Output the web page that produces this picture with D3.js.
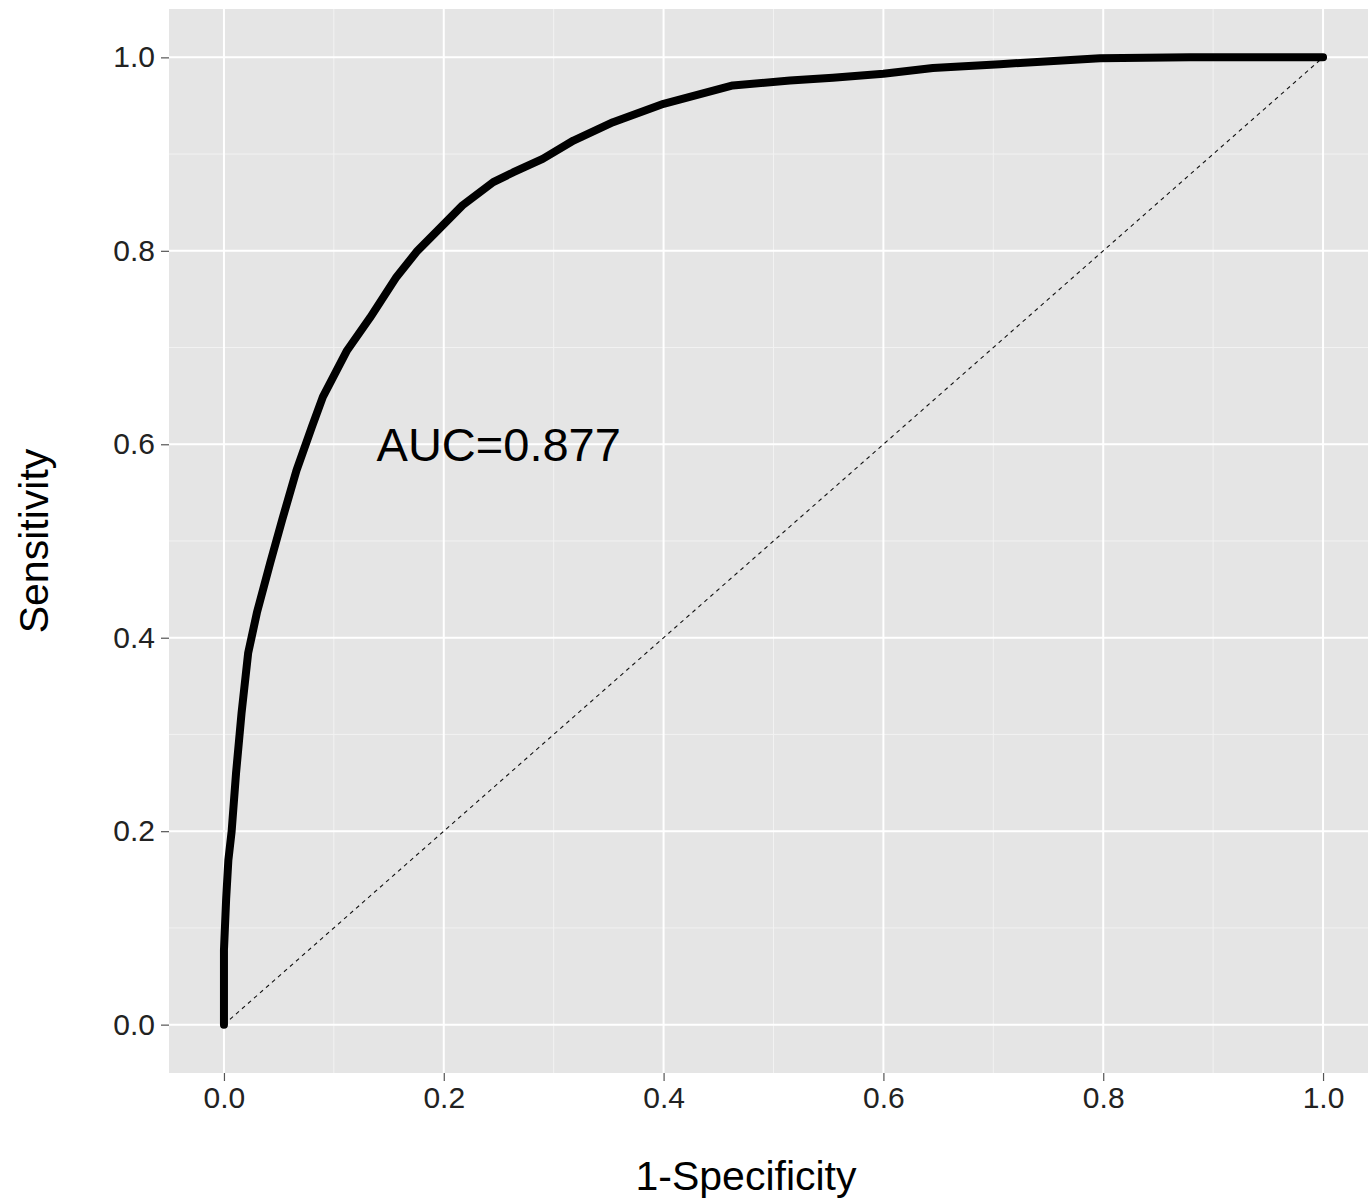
<!DOCTYPE html>
<html>
<head>
<meta charset="utf-8">
<script src="https://cdn.jsdelivr.net/npm/d3@7"></script>
<style>
body { margin: 0; background: #fff; }
svg { display: block; font-family: "Liberation Sans", Arial, sans-serif; }
</style>
</head>
<body>
<svg id="chart" width="1368" height="1200"></svg>
<script>
// ROC curve points
const fpr = [0, 0.000, 0.002, 0.004, 0.007, 0.011, 0.016, 0.022, 0.030, 0.042, 0.053, 0.066, 0.080, 0.090, 0.112, 0.133, 0.157, 0.176, 0.197, 0.217, 0.245, 0.263, 0.290, 0.318, 0.354, 0.400, 0.463, 0.515, 0.554, 0.600, 0.645, 0.706, 0.797, 0.879, 1.0]
const tpr = [0, 0.077, 0.13, 0.17, 0.2, 0.26, 0.322, 0.384, 0.426, 0.477, 0.522, 0.573, 0.618, 0.649, 0.697, 0.731, 0.773, 0.800, 0.824, 0.847, 0.871, 0.881, 0.895, 0.914, 0.933, 0.952, 0.971, 0.976, 0.979, 0.983, 0.989, 0.993, 0.999, 1.0, 1.0]
const majorTicks = [0, 0.2, 0.4, 0.6, 0.8, 1.0]
const minorTicks = [0.1, 0.3, 0.5, 0.7, 0.9]
const aucLabel = "AUC=0.877"

const svg = d3.select("#chart")
const panel = { left: 169, top: 9, right: 1378, bottom: 1073 }

const x = d3.scaleLinear().domain([-0.05, 1.05]).range([panel.left, panel.right])
const y = d3.scaleLinear().domain([-0.05, 1.05]).range([panel.bottom, panel.top])

svg.append("defs").append("clipPath").attr("id", "clip")
	.append("rect")
	.attr("x", panel.left).attr("y", panel.top)
	.attr("width", panel.right - panel.left).attr("height", panel.bottom - panel.top)

const plot = svg.append("g").attr("clip-path", "url(#clip)")
plot.append("rect")
	.attr("x", panel.left).attr("y", panel.top)
	.attr("width", panel.right - panel.left).attr("height", panel.bottom - panel.top)
	.attr("fill", "#e5e5e5")

// grid lines
minorTicks.forEach(t => {
	plot.append("line").attr("x1", x(t)).attr("x2", x(t)).attr("y1", panel.top).attr("y2", panel.bottom)
		.attr("stroke", "#f2f2f2").attr("stroke-width", 1)
	plot.append("line").attr("y1", y(t)).attr("y2", y(t)).attr("x1", panel.left).attr("x2", panel.right)
		.attr("stroke", "#f2f2f2").attr("stroke-width", 1)
})
majorTicks.forEach(t => {
	plot.append("line").attr("x1", x(t)).attr("x2", x(t)).attr("y1", panel.top).attr("y2", panel.bottom)
		.attr("stroke", "#fff").attr("stroke-width", 2)
	plot.append("line").attr("y1", y(t)).attr("y2", y(t)).attr("x1", panel.left).attr("x2", panel.right)
		.attr("stroke", "#fff").attr("stroke-width", 2)
})

// reference diagonal
plot.append("line")
	.attr("x1", x(0)).attr("y1", y(0)).attr("x2", x(1)).attr("y2", y(1))
	.attr("stroke", "#111").attr("stroke-width", 1.1).attr("stroke-dasharray", "4,4")

const pts = fpr.map((d, i) => [d, tpr[i]])
plot.append("path")
	.datum(pts)
	.attr("d", d3.line().x(d => x(d[0])).y(d => y(d[1])))
	.attr("fill", "none").attr("stroke", "#000").attr("stroke-width", 8)
	.attr("stroke-linejoin", "round").attr("stroke-linecap", "round")

plot.append("text")
	.attr("x", x(0.25)).attr("y", y(0.6))
	.attr("dy", "0.36em")
	.attr("text-anchor", "middle")
	.attr("font-size", 47)
	.attr("fill", "#000")
	.text(aucLabel)

// axes
const fmt = d3.format(".1f")
const xAxis = d3.axisBottom(x).tickValues(majorTicks).tickFormat(fmt).tickSize(8).tickPadding(6)
const yAxis = d3.axisLeft(y).tickValues(majorTicks).tickFormat(fmt).tickSize(8).tickPadding(6)

const gx = svg.append("g").attr("transform", `translate(0,${panel.bottom})`).call(xAxis)
const gy = svg.append("g").attr("transform", `translate(${panel.left},0)`).call(yAxis)
;[gx, gy].forEach(g => {
	g.select(".domain").remove()
	g.selectAll(".tick line").attr("stroke", "#555").attr("stroke-width", 1.2)
	g.selectAll(".tick text").attr("fill", "#222").attr("font-size", 30)
		.attr("font-family", "Liberation Sans, Arial, sans-serif")
})

svg.append("text")
	.attr("x", x(0.475)).attr("y", 1190)
	.attr("text-anchor", "middle")
	.attr("font-size", 41)
	.attr("fill", "#000")
	.text("1-Specificity")

svg.append("text")
	.attr("transform", `translate(48,${y(0.5)}) rotate(-90)`)
	.attr("text-anchor", "middle")
	.attr("font-size", 41)
	.attr("fill", "#000")
	.text("Sensitivity")
</script>
</body>
</html>
